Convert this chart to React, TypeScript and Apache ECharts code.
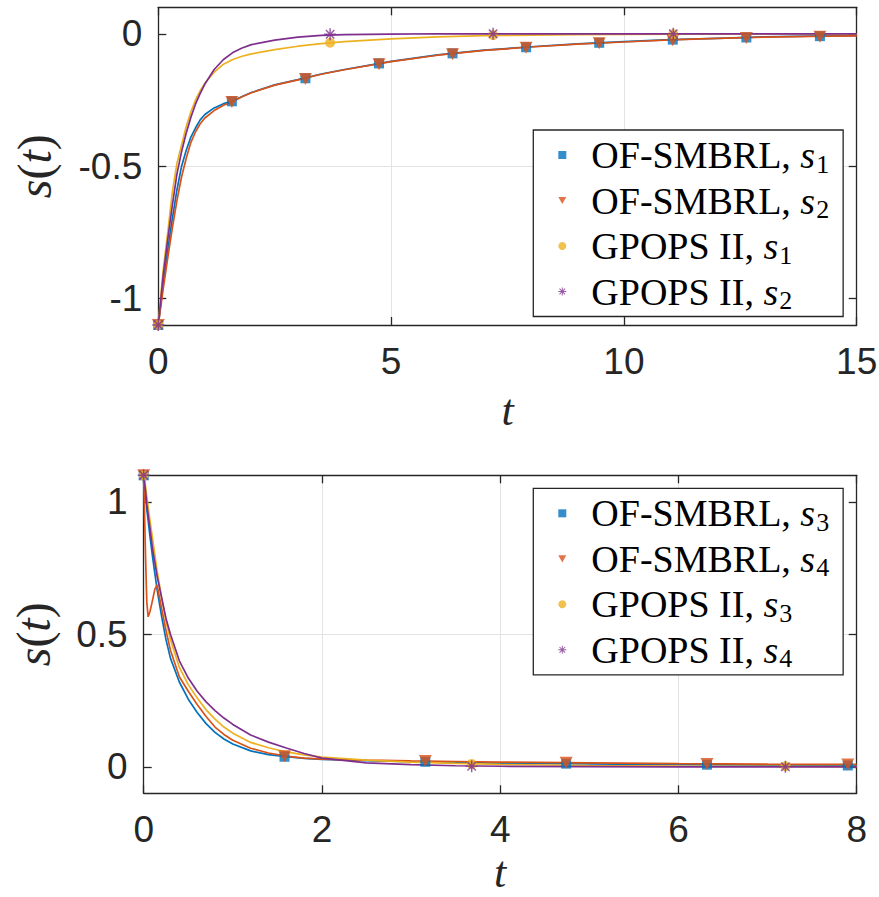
import React, { useEffect, useRef } from 'react';
import * as echarts from 'echarts';

// ---------- Top panel (s1, s2) ----------
const topT = [0, 0.1, 0.2, 0.3, 0.4, 0.5, 0.6, 0.7, 0.8, 0.9, 1.0, 1.2, 1.4, 1.6, 1.8, 2.0, 2.5, 3.0, 3.5, 4.0, 5.0, 6.0, 7.0, 8.0, 9.0, 10, 11, 12, 13, 14, 15];
const topOF_s1 = [-1.1, -0.95, -0.82, -0.7, -0.59, -0.5, -0.44, -0.39, -0.355, -0.325, -0.305, -0.28, -0.264, -0.254, -0.237, -0.222, -0.193, -0.173, -0.152, -0.135, -0.104, -0.08, -0.062, -0.049, -0.038, -0.03, -0.022, -0.017, -0.012, -0.009, -0.007];
const topOF_s2 = [-1.1, -0.97, -0.85, -0.735, -0.63, -0.54, -0.47, -0.41, -0.37, -0.34, -0.318, -0.29, -0.27, -0.256, -0.238, -0.223, -0.194, -0.174, -0.153, -0.136, -0.105, -0.081, -0.063, -0.05, -0.039, -0.031, -0.023, -0.017, -0.013, -0.01, -0.008];
const topGP_s1 = [-1.1, -0.9, -0.755, -0.6, -0.49, -0.42, -0.35, -0.295, -0.25, -0.215, -0.187, -0.145, -0.115, -0.097, -0.085, -0.076, -0.06, -0.047, -0.037, -0.03, -0.019, -0.012, -0.007, -0.005, -0.003, -0.002, -0.001, -0.001, 0, 0, 0];
const topGP_s2 = [-1.1, -0.92, -0.78, -0.65, -0.53, -0.445, -0.375, -0.315, -0.265, -0.225, -0.19, -0.135, -0.097, -0.071, -0.054, -0.041, -0.024, -0.013, -0.006, -0.003, -0.001, 0, 0, 0, 0, 0, 0, 0, 0, 0, 0];

const topMarkT_OF = [0, 1.58, 3.16, 4.74, 6.32, 7.9, 9.47, 11.05, 12.63, 14.21];
const topMarkOF_s1 = [-1.1, -0.255, -0.168, -0.112, -0.074, -0.051, -0.034, -0.022, -0.014, -0.009];
const topMarkOF_s2 = [-1.1, -0.258, -0.171, -0.115, -0.077, -0.053, -0.036, -0.024, -0.016, -0.011];
const topMarkT_GP = [0, 3.69, 7.19, 11.06];
const topMarkGP_s1 = [-1.1, -0.034, -0.005, -0.001];
const topMarkGP_s2 = [-1.1, -0.002, 0, 0];

// ---------- Bottom panel (s3, s4) ----------
const botT = [0, 0.02, 0.035, 0.05, 0.07, 0.1, 0.125, 0.15, 0.2, 0.25, 0.3, 0.4, 0.5, 0.6, 0.7, 0.8, 0.9, 1.0, 1.2, 1.4, 1.6, 1.8, 2.0, 2.5, 3.0, 3.5, 4.0, 5.0, 6.0, 7.0, 8.0];
const botOF_s3 = [1.1, 1.03, 0.97, 0.93, 0.87, 0.79, 0.73, 0.67, 0.57, 0.48, 0.41, 0.32, 0.255, 0.205, 0.163, 0.13, 0.105, 0.086, 0.06, 0.046, 0.038, 0.032, 0.028, 0.023, 0.019, 0.016, 0.014, 0.011, 0.008, 0.006, 0.005];
const botOF_s4 = [1.1, 0.8, 0.62, 0.566, 0.585, 0.63, 0.67, 0.686, 0.6, 0.515, 0.44, 0.34, 0.285, 0.235, 0.19, 0.15, 0.122, 0.1, 0.07, 0.052, 0.04, 0.033, 0.029, 0.025, 0.022, 0.02, 0.018, 0.015, 0.012, 0.01, 0.009];
const botGP_s3 = [1.1, 1.06, 1.02, 0.98, 0.93, 0.86, 0.8, 0.74, 0.64, 0.55, 0.48, 0.375, 0.31, 0.26, 0.215, 0.18, 0.15, 0.127, 0.092, 0.072, 0.056, 0.045, 0.037, 0.025, 0.018, 0.013, 0.009, 0.005, 0.003, 0.002, 0.001];
const botGP_s4 = [1.1, 1.04, 0.99, 0.95, 0.9, 0.82, 0.77, 0.72, 0.64, 0.56, 0.5, 0.4, 0.335, 0.285, 0.245, 0.212, 0.184, 0.16, 0.12, 0.093, 0.071, 0.05, 0.033, 0.015, 0.008, 0.004, 0.002, 0.001, 0, 0, 0];

const botMarkT_OF = [0, 1.58, 3.16, 4.74, 6.32, 7.9];
const botMarkOF_s3 = [1.1, 0.038, 0.019, 0.012, 0.008, 0.005];
const botMarkOF_s4 = [1.1, 0.04, 0.022, 0.015, 0.011, 0.009];
const botMarkT_GP = [0, 3.68, 7.2];
const botMarkGP_s3 = [1.1, 0.011, 0.002];
const botMarkGP_s4 = [1.1, 0.002, 0];

// ---------- Ticks ----------
const topXTicks = [0, 5, 10, 15];
const topYTicks = [-1, -0.5, 0];
const botXTicks = [0, 2, 4, 6, 8];
const botYTicks = [0, 0.5, 1];

const names = {
  of1: 'OF-SMBRL, s1', of2: 'OF-SMBRL, s2', gp1: 'GPOPS II, s1', gp2: 'GPOPS II, s2',
  of3: 'OF-SMBRL, s3', of4: 'OF-SMBRL, s4', gp3: 'GPOPS II, s3', gp4: 'GPOPS II, s4',
};

const C_BLUE = '#0072BD';
const C_RED = '#D95319';
const C_YEL = '#EDB120';
const C_PUR = '#7E2F8E';
const AXIS = '#262626';
const GRIDC = '#e3e3e3';

const STAR = 'path://M0,4.4H10V5.6H0Z M4.4,0H5.6V10H4.4Z M1.08,1.92L1.92,1.08L8.92,8.08L8.08,8.92Z M8.08,1.08L8.92,1.92L1.92,8.92L1.08,8.08Z';
const TRI_DOWN = 'path://M0,0L10,0L5,9Z';

const pairs = (xs: number[], ys: number[]) => xs.map((x, i) => [x, ys[i]]);

const lineS = (name: string, xs: number[], ys: number[], color: string, ai: number) => ({
  type: 'line', name, data: pairs(xs, ys), xAxisIndex: ai, yAxisIndex: ai,
  showSymbol: false, symbol: 'none', smooth: false,
  lineStyle: { color, width: 1.7 }, itemStyle: { color },
  z: 2, silent: true, emphasis: { disabled: true },
});
const markS = (name: string, xs: number[], ys: number[], color: string, symbol: string, size: number | number[], ai: number) => ({
  type: 'scatter', name, data: pairs(xs, ys), xAxisIndex: ai, yAxisIndex: ai,
  symbol, symbolSize: size, itemStyle: { color }, z: 3, silent: true, emphasis: { disabled: true },
});

const tickFont = { fontFamily: 'Liberation Sans', fontSize: 37, color: AXIS };
const lineStyleAxis = { color: AXIS, width: 1.3 };

const mkX = (gi: number, min: number, max: number, interval: number, ticks: number[], main: boolean, nameGap: number) => ({
  type: 'value', gridIndex: gi, min, max, interval, position: main ? 'bottom' : 'top',
  axisLine: { show: true, onZero: false, lineStyle: lineStyleAxis },
  axisTick: { show: true, inside: true, length: 8, lineStyle: lineStyleAxis, customValues: ticks },
  axisLabel: main ? { show: true, margin: 18, customValues: ticks, ...tickFont } : { show: false },
  splitLine: { show: main, lineStyle: { color: GRIDC, width: 1 } },
  ...(main ? {
    name: 't', nameLocation: 'middle', nameGap, nameMoveOverlap: false,
    nameTextStyle: { fontFamily: 'Liberation Serif', fontStyle: 'italic', fontSize: 44, lineHeight: 34, color: AXIS },
  } : {}),
});
const mkY = (gi: number, min: number, max: number, ticks: number[], main: boolean, nameGap: number) => ({
  type: 'value', gridIndex: gi, min, max, minInterval: 0.5, maxInterval: 0.5, position: main ? 'left' : 'right',
  axisLine: { show: true, onZero: false, lineStyle: lineStyleAxis },
  axisTick: { show: true, inside: true, length: 8, lineStyle: lineStyleAxis, customValues: ticks },
  axisLabel: main ? { show: true, margin: 16, customValues: ticks, ...tickFont } : { show: false },
  splitLine: { show: main, showMinLine: false, showMaxLine: false, lineStyle: { color: GRIDC, width: 1 } },
  ...(main ? {
    name: '{it|s}{rm|(}{it|t}{rm|)}', nameLocation: 'middle', nameGap, nameMoveOverlap: false,
    nameTextStyle: {
      fontSize: 48, color: AXIS,
      rich: {
        it: { fontFamily: 'Liberation Serif', fontStyle: 'italic', fontSize: 48, color: AXIS },
        rm: { fontFamily: 'Liberation Serif', fontSize: 48, color: AXIS },
      },
    },
  } : {}),
});

const legendRich = {
  sp: { width: 20 },
  rm: { fontFamily: 'Liberation Serif', fontSize: 38, color: '#000', lineHeight: 43, verticalAlign: 'middle' },
  it: { fontFamily: 'Liberation Serif', fontStyle: 'italic', fontSize: 38, color: '#000', lineHeight: 43, verticalAlign: 'middle' },
  sub: { fontFamily: 'Liberation Serif', fontSize: 26, color: '#000', lineHeight: 25, padding: [18, 0, 0, 1], verticalAlign: 'middle' },
};
const legendFmt = (name: string) => {
  const m = name.match(/^(.*), s(\d)$/);
  if (!m) return name;
  return `{sp|}{rm|${m[1]}, }{it|s}{sub|${m[2]}}`;
};
const mkLegend = (left: number, top: number, n: string[]) => ({
  orient: 'vertical', left, top,
  data: [
    { name: n[0], icon: 'rect' },
    { name: n[1], icon: TRI_DOWN },
    { name: n[2], icon: 'circle' },
    { name: n[3], icon: STAR },
  ],
  itemWidth: 8, itemHeight: 8, itemGap: 1.5,
  padding: [3, 14, 3, 25],
  backgroundColor: '#fff', borderColor: AXIS, borderWidth: 1.3, borderRadius: 0,
  itemStyle: { borderWidth: 0 },
  selectedMode: false,
  formatter: legendFmt,
  textStyle: { fontFamily: 'Liberation Serif', fontSize: 38, color: '#000', rich: legendRich },
  z: 10,
});

export default function App() {
  const ref = useRef<HTMLDivElement>(null);
  useEffect(() => {
    const chart = echarts.init(ref.current!, null, { renderer: 'svg' });
    const option: any = {
      animation: false,
      backgroundColor: '#fff',
      grid: [
        { left: 158.3, top: 7.3, width: 698.4, height: 317.7, containLabel: false, outerBoundsMode: 'none' },
        { left: 143.7, top: 475.3, width: 713, height: 318, containLabel: false, outerBoundsMode: 'none' },
      ],
      xAxis: [
        mkX(0, 0, 15, 5, topXTicks, true, 68),
        mkX(0, 0, 15, 5, topXTicks, false, 0),
        mkX(1, 0, 8, 2, botXTicks, true, 62),
        mkX(1, 0, 8, 2, botXTicks, false, 0),
      ],
      yAxis: [
        mkY(0, -1.1, 0.1, topYTicks, true, 100),
        mkY(0, -1.1, 0.1, topYTicks, false, 0),
        mkY(1, -0.1, 1.1, botYTicks, true, 86),
        mkY(1, -0.1, 1.1, botYTicks, false, 0),
      ],
      legend: [
        mkLegend(533.3, 130, [names.of1, names.of2, names.gp1, names.gp2]),
        mkLegend(533.3, 488.3, [names.of3, names.of4, names.gp3, names.gp4]),
      ],
      series: [
        markS(names.of1, topMarkT_OF, topMarkOF_s1, C_BLUE, 'rect', 10, 0),
        markS(names.of2, topMarkT_OF, topMarkOF_s2, C_RED, TRI_DOWN, [13, 12], 0),
        markS(names.gp1, topMarkT_GP, topMarkGP_s1, C_YEL, 'circle', 10, 0),
        markS(names.gp2, topMarkT_GP, topMarkGP_s2, C_PUR, STAR, 12, 0),
        lineS(names.of1, topT, topOF_s1, C_BLUE, 0),
        lineS(names.of2, topT, topOF_s2, C_RED, 0),
        lineS(names.gp1, topT, topGP_s1, C_YEL, 0),
        lineS(names.gp2, topT, topGP_s2, C_PUR, 0),
        markS(names.of3, botMarkT_OF, botMarkOF_s3, C_BLUE, 'rect', 10, 2),
        markS(names.of4, botMarkT_OF, botMarkOF_s4, C_RED, TRI_DOWN, [13, 12], 2),
        markS(names.gp3, botMarkT_GP, botMarkGP_s3, C_YEL, 'circle', 10, 2),
        markS(names.gp4, botMarkT_GP, botMarkGP_s4, C_PUR, STAR, 12, 2),
        lineS(names.of3, botT, botOF_s3, C_BLUE, 2),
        lineS(names.of4, botT, botOF_s4, C_RED, 2),
        lineS(names.gp3, botT, botGP_s3, C_YEL, 2),
        lineS(names.gp4, botT, botGP_s4, C_PUR, 2),
      ],
    };
    chart.setOption(option);
    return () => chart.dispose();
  }, []);
  return <div ref={ref} style={{ position: 'absolute', left: 0, top: 0, width: 879, height: 897 }} />;
}
